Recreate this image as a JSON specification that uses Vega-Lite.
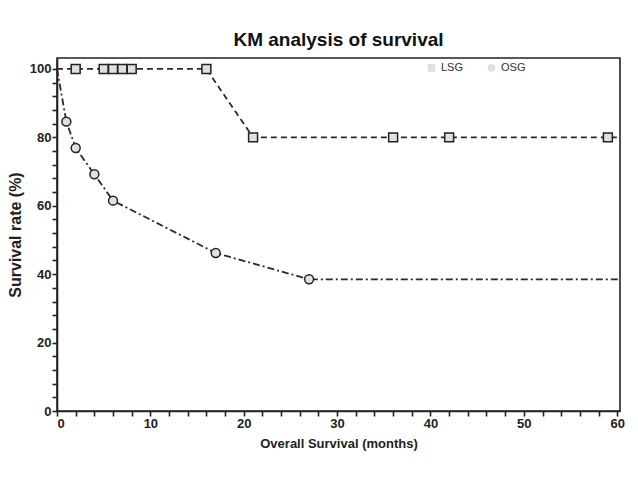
{
  "$schema": "https://vega.github.io/schema/vega-lite/v6.json",
  "autosize": {"type": "none"},
  "width": 563,
  "height": 353,
  "padding": {"left": 57, "top": 58, "right": 18, "bottom": 72},
  "title": {
    "text": "KM analysis of survival",
    "font": "Liberation Sans",
    "fontSize": 19,
    "fontWeight": "bold",
    "color": "#111",
    "anchor": "middle",
    "offset": 8
  },
  "config": {
    "view": {"stroke": "#222", "strokeWidth": 1.6},
    "legend": {
      "labelFont": "Liberation Sans",
      "labelFontSize": 11,
      "labelColor": "#333",
      "symbolSize": 60,
      "symbolStrokeWidth": 1.5,
      "symbolStrokeColor": "#222",
      "symbolFillColor": "#e0e0e0"
    },
    "axis": {
      "grid": false,
      "domainColor": "#222",
      "domainWidth": 1.6,
      "tickColor": "#222",
      "tickWidth": 1.6,
      "tickSize": 5,
      "labelFont": "Liberation Sans",
      "labelFontWeight": "bold",
      "labelFontSize": 13,
      "labelColor": "#222",
      "titleFont": "Liberation Sans",
      "titleFontWeight": "bold",
      "titleColor": "#222"
    }
  },
  "data": {
    "values": [
      {"group": "LSG", "t": 0, "s": 100, "marker": false},
      {"group": "LSG", "t": 2, "s": 100, "marker": true},
      {"group": "LSG", "t": 5, "s": 100, "marker": true},
      {"group": "LSG", "t": 6, "s": 100, "marker": true},
      {"group": "LSG", "t": 7, "s": 100, "marker": true},
      {"group": "LSG", "t": 8, "s": 100, "marker": true},
      {"group": "LSG", "t": 16, "s": 100, "marker": true},
      {"group": "LSG", "t": 21, "s": 80, "marker": true},
      {"group": "LSG", "t": 36, "s": 80, "marker": true},
      {"group": "LSG", "t": 42, "s": 80, "marker": true},
      {"group": "LSG", "t": 59, "s": 80, "marker": true},
      {"group": "LSG", "t": 60.3, "s": 80, "marker": false},
      {"group": "OSG", "t": 0, "s": 100, "marker": false},
      {"group": "OSG", "t": 1, "s": 84.6, "marker": true},
      {"group": "OSG", "t": 2, "s": 76.9, "marker": true},
      {"group": "OSG", "t": 4, "s": 69.2, "marker": true},
      {"group": "OSG", "t": 6, "s": 61.5, "marker": true},
      {"group": "OSG", "t": 17, "s": 46.2, "marker": true},
      {"group": "OSG", "t": 27, "s": 38.5, "marker": true},
      {"group": "OSG", "t": 60.3, "s": 38.5, "marker": false}
    ]
  },
  "encoding": {
    "x": {
      "field": "t",
      "type": "quantitative",
      "title": "Overall Survival (months)",
      "scale": {"domain": [0, 60.3], "nice": false, "zero": false},
      "axis": {
        "values": [0,2,4,6,8,10,12,14,16,18,20,22,24,26,28,30,32,34,36,38,40,42,44,46,48,50,52,54,56,58,60],
        "labelExpr": "datum.value % 10 === 0 ? datum.label : ''",
        "labelPadding": 1,
        "titleFontSize": 13,
        "titlePadding": 7
      }
    },
    "y": {
      "field": "s",
      "type": "quantitative",
      "title": "Survival rate (%)",
      "scale": {"domain": [0, 103.2], "nice": false, "zero": false},
      "axis": {
        "values": [0,4,8,12,16,20,24,28,32,36,40,44,48,52,56,60,64,68,72,76,80,84,88,92,96,100],
        "labelExpr": "datum.value % 20 === 0 ? datum.label : ''",
        "labelPadding": 1,
        "titleFontSize": 16,
        "titlePadding": 6
      }
    }
  },
  "layer": [
    {
      "transform": [{"filter": "datum.group === 'LSG'"}],
      "mark": {"type": "line", "color": "#2a2a2a", "strokeWidth": 1.8, "strokeDash": [6, 4]},
      "encoding": {}
    },
    {
      "transform": [{"filter": "datum.group === 'OSG'"}],
      "mark": {"type": "line", "color": "#2a2a2a", "strokeWidth": 1.8, "strokeDash": [7, 3, 2, 3]},
      "encoding": {}
    },
    {
      "transform": [{"filter": "datum.marker"}],
      "mark": {"type": "point", "filled": true, "fill": "#e0e0e0", "stroke": "#222", "strokeWidth": 1.5, "opacity": 1},
      "encoding": {
        "shape": {
          "field": "group",
          "type": "nominal",
          "title": null,
          "scale": {"domain": ["LSG", "OSG"], "range": ["square", "circle"]},
          "legend": {"orient": "none", "legendX": 369, "legendY": 4, "direction": "horizontal", "columnPadding": 20}
        },
        "size": {"value": 80}
      }
    }
  ]
}
